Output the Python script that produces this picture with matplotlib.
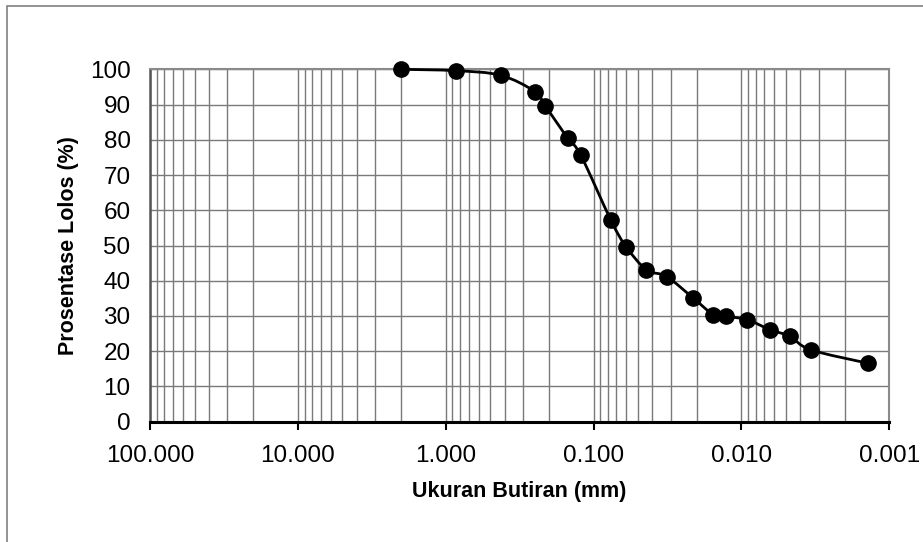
import numpy as np
import matplotlib
matplotlib.use("Agg")
import matplotlib.pyplot as plt
from matplotlib.path import Path
from matplotlib.patches import PathPatch, Rectangle
from matplotlib.ticker import FixedLocator, FuncFormatter, NullFormatter

plt.rcParams['font.family'] = ['Liberation Sans', 'DejaVu Sans']

# grain size (mm) and percent passing
size = [2.0, 0.85, 0.425, 0.25, 0.212, 0.15, 0.122, 0.0762, 0.0604, 0.0439,
        0.0321, 0.0212, 0.0155, 0.0127, 0.0091, 0.0064, 0.0047, 0.0034, 0.0014]
pct = [100, 99.6, 98.3, 93.7, 89.6, 80.5, 75.6, 57.1, 49.7, 43.1,
       41.2, 35.1, 30.4, 29.9, 28.9, 26.1, 24.2, 20.4, 16.6]

xticks = [100, 10, 1, 0.1, 0.01, 0.001]
yticks = list(range(0, 101, 10))

fig = plt.figure(figsize=(9.23, 5.42), dpi=100)
ax = fig.add_axes([150/923, 1-421.7/542, (889.3-150)/923, (421.7-69.3)/542])

ax.set_xscale('log')
ax.set_xlim(100, 0.001)
ax.set_ylim(0, 100)

# minor grid positions 2..9 per decade
minors = []
for d in [0.001, 0.01, 0.1, 1, 10]:
    for k in range(2, 10):
        minors.append(k*d)
ax.xaxis.set_major_locator(FixedLocator(xticks))
ax.xaxis.set_minor_locator(FixedLocator(minors))
ax.xaxis.set_major_formatter(FuncFormatter(lambda v, p: "%.3f" % v))
ax.xaxis.set_minor_formatter(NullFormatter())
ax.set_yticks(yticks)

ax.grid(True, which='both', axis='x', color='#7a7a7a', lw=1.0)
ax.grid(True, which='major', axis='y', color='#7a7a7a', lw=1.0)
ax.set_axisbelow(True)

ax.tick_params(axis='x', which='major', direction='out', length=6, width=1.5,
               labelsize=17.5, pad=11, colors='black')
ax.tick_params(axis='x', which='minor', length=0)
ax.tick_params(axis='y', length=0, labelsize=17.5, pad=14)

for s in ['top', 'right']:
    ax.spines[s].set_color('#8a8a8a')
    ax.spines[s].set_linewidth(1.5)
ax.spines['left'].set_color('#555555')
ax.spines['left'].set_linewidth(1.8)
ax.spines['bottom'].set_color('black')
ax.spines['bottom'].set_linewidth(2.2)

# smoothed line (bezier, like the spreadsheet's smoothed line)
lx = np.log10(size)
py = np.array(pct, dtype=float)
n = len(lx)
verts = [(size[0], pct[0])]
codes = [Path.MOVETO]
for i in range(n-1):
    i0 = max(i-1, 0)
    i3 = min(i+2, n-1)
    c1x = lx[i] + (lx[i+1]-lx[i0])/6
    c1y = py[i] + (py[i+1]-py[i0])/6
    c2x = lx[i+1] - (lx[i3]-lx[i])/6
    c2y = py[i+1] - (py[i3]-py[i])/6
    verts += [(10**c1x, c1y), (10**c2x, c2y), (size[i+1], pct[i+1])]
    codes += [Path.CURVE4]*3
ax.add_patch(PathPatch(Path(verts, codes), fill=False, ec='black', lw=2.0,
                       clip_on=False, zorder=3))

ax.plot(size, pct, 'o', color='black', ms=11, clip_on=False, zorder=4)

ax.set_xlabel('Ukuran Butiran (mm)', fontsize=15.5, fontweight='bold', labelpad=10)
ax.set_ylabel('Prosentase Lolos (%)', fontsize=15.5, fontweight='bold', labelpad=8)

# outer chart border
fig.add_artist(Rectangle((7.5/923, -0.2), 2, 1.2 - 5.5/542, transform=fig.transFigure,
                         fill=False, ec='#808080', lw=1.2))

fig.savefig('out.png', dpi=100)
